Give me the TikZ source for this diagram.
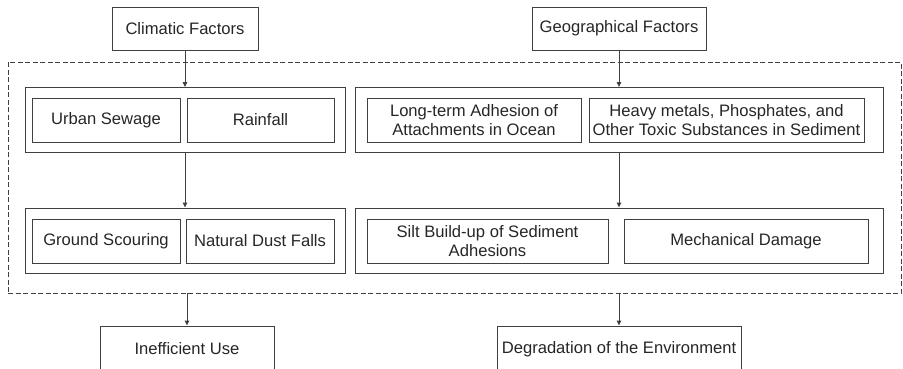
\documentclass[tikz,border=0pt]{standalone}
\usepackage{fontspec}
\setmainfont{Liberation Sans}
\usetikzlibrary{arrows.meta,positioning}

\begin{document}
\begin{tikzpicture}[
  x=1pt, y=-1pt,
  line width=0.9pt, draw=black!75,
  every node/.style={font=\fontsize{16.6}{19}\selectfont, text=black!85, inner sep=2pt, align=center},
  factor/.style={draw, minimum height=43pt},
  item/.style={draw, minimum height=44pt},
  group/.style={draw, minimum width=#1, minimum height=65pt},
  zone/.style={draw, dashed, dash pattern=on 5pt off 2.5pt},
  flow/.style={-{Triangle[length=5pt,width=4.5pt]}}
]
\useasboundingbox (0,0) rectangle (903,369);

% causes on top
\node[factor, minimum width=146pt] (climatic) at (185,28.5) {Climatic Factors};
\node[factor, minimum width=174pt] (geo) at (619,28.5) {Geographical Factors};

% dashed frame round the four groups
\node[zone, minimum width=893pt, minimum height=231pt] (frame) at (454.5,177.5) {};

\node[group=320pt] (grpA1) at (185,120) {};
\node[group=528pt] (grpB1) at (619,120) {};
\node[group=320pt] (grpA2) at (185,240.5) {};
\node[group=528pt] (grpB2) at (619,240.5) {};

\node[item, minimum width=148pt] (sewage) at (106,120) {Urban Sewage};
\node[item, minimum width=147pt] (rain) at (260.5,120) {Rainfall};
\node[item, minimum width=214pt] (attach) at (474,120) {Long-term Adhesion of\\Attachments in Ocean};
\node[item, minimum width=275pt] (toxic) at (726.5,120) {Heavy metals, Phosphates, and\\Other Toxic Substances in Sediment};

\node[item, minimum width=148pt] (scour) at (106,241) {Ground Scouring};
\node[item, minimum width=148pt] (dust) at (260,241) {Natural Dust Falls};
\node[item, minimum width=241pt] (silt) at (487.5,241) {Silt Build-up of Sediment\\Adhesions};
\node[item, minimum width=244pt] (mech) at (746,241) {Mechanical Damage};

% effects, cut off at the bottom
\node[factor, minimum width=174pt, minimum height=46pt] (inefficient) at (187,349) {Inefficient Use};
\node[factor, minimum width=244pt, minimum height=46pt] (degrade) at (619,349) {Degradation of the Environment};

\draw[flow] (climatic) -- (grpA1);
\draw[flow] (geo) -- (grpB1);
\draw[flow] (grpA1) -- (grpA2);
\draw[flow] (grpB1) -- (grpB2);
\draw[flow] (frame.south -| inefficient) -- (inefficient);
\draw[flow] (frame.south -| degrade) -- (degrade);
\end{tikzpicture}
\end{document}
